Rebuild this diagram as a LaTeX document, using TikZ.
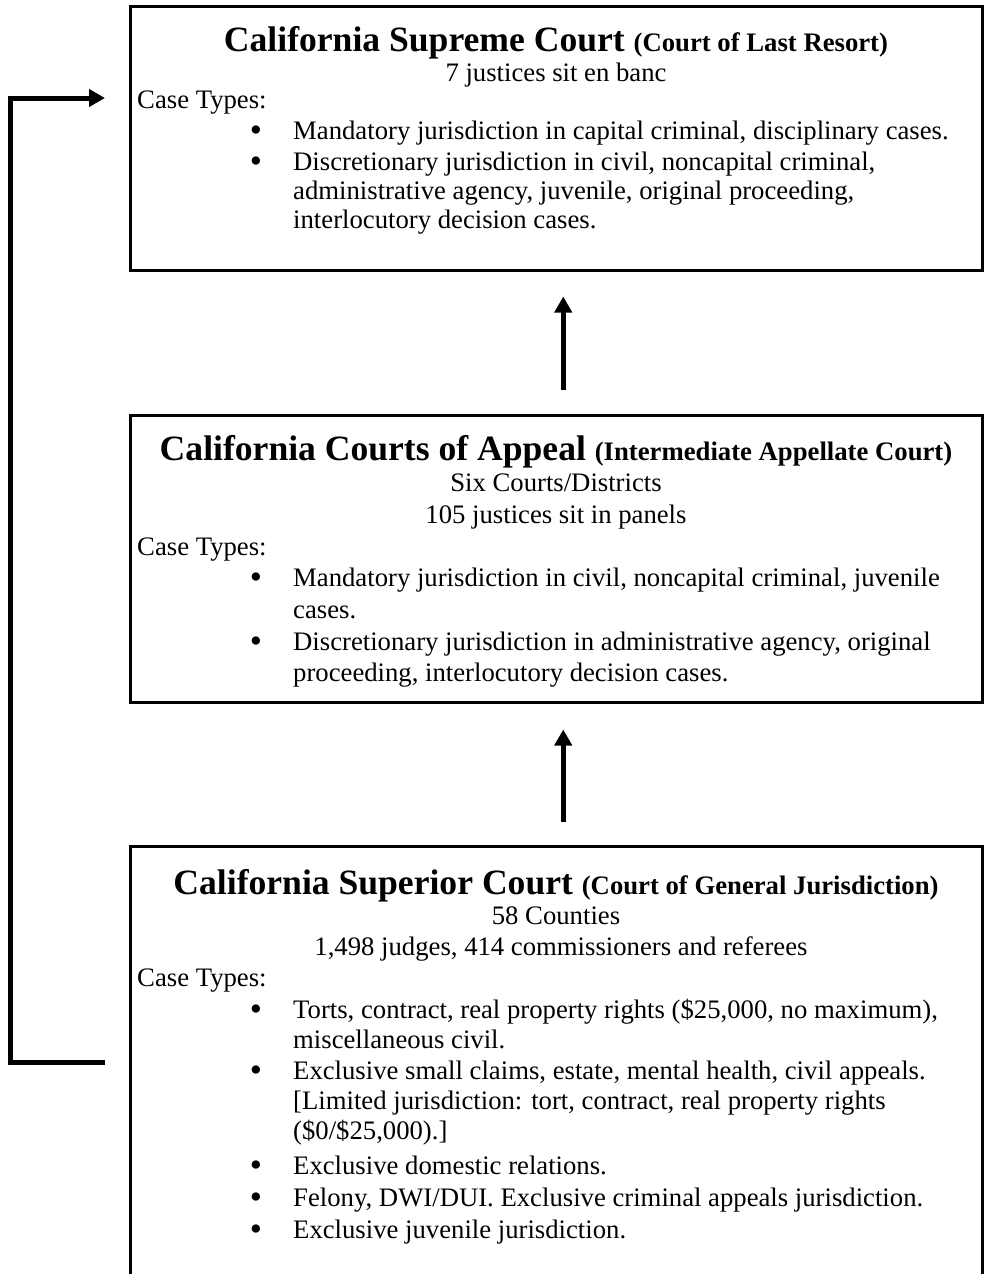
\documentclass[tikz,border=0pt]{standalone}
\usepackage{fontspec}
\setmainfont{Liberation Serif}
\usetikzlibrary{arrows.meta}
\begin{document}
\begin{tikzpicture}[x=1pt,y=-1pt,
  box/.style={draw=black, line width=2.5pt, anchor=north west, inner sep=0pt, minimum width=852pt},
  txt/.style={inner sep=0pt, font=\fontsize{26.7}{30}\selectfont},
  bul/.style={inner sep=0pt, font=\fontsize{26.7}{30}\selectfont},
  ttl/.style={inner sep=0pt, font=\fontsize{35.6}{40}\selectfont\bfseries},
  conn/.style={line width=5pt, -{Triangle[width=17pt,length=16pt]}}
]
\useasboundingbox (0,0) rectangle (983,1274);
\newcommand{\sub}[1]{{\fontsize{26.7}{30}\selectfont #1}}
\newcommand{\bigbul}{\scalebox{1.3}{•}}

% boxes
\node[box, minimum height=264pt] (sup) at (129,5) {};
\node[box, minimum height=287pt] (mid) at (129,414) {};
\node[box, minimum height=440pt] (bot) at (129,845) {};

% top box text
\node[ttl, anchor=base] (supT) at (556,51) {California Supreme Court \sub{(Court of Last Resort)}};
\node[txt, anchor=base] (supA) at (556,81) {7 justices sit en banc};
\node[txt, anchor=base west] (supC) at (137,108) {Case Types:};
\node[bul, anchor=base] (supB1) at (256,141) {\bigbul};
\node[txt, anchor=base west] (supL1) at (293,139) {Mandatory jurisdiction in capital criminal, disciplinary cases.};
\node[bul, anchor=base] (supB2) at (256,172) {\bigbul};
\node[txt, anchor=base west] (supL2) at (293,170) {Discretionary jurisdiction in civil, noncapital criminal,};
\node[txt, anchor=base west] (supL3) at (293,199) {administrative agency, juvenile, original proceeding,};
\node[txt, anchor=base west] (supL4) at (293,228) {interlocutory decision cases.};

% middle box text
\node[ttl, anchor=base] (midT) at (556,460) {California Courts of Appeal \sub{(Intermediate Appellate Court)}};
\node[txt, anchor=base] (midA) at (556,491) {Six Courts/Districts};
\node[txt, anchor=base] (midA2) at (556,523) {105 justices sit in panels};
\node[txt, anchor=base west] (midC) at (137,555) {Case Types:};
\node[bul, anchor=base] (midB1) at (256,588) {\bigbul};
\node[txt, anchor=base west] (midL1) at (293,586) {Mandatory jurisdiction in civil, noncapital criminal, juvenile};
\node[txt, anchor=base west] (midL2) at (293,618) {cases.};
\node[bul, anchor=base] (midB2) at (256,652) {\bigbul};
\node[txt, anchor=base west] (midL3) at (293,650) {Discretionary jurisdiction in administrative agency, original};
\node[txt, anchor=base west] (midL4) at (293,681) {proceeding, interlocutory decision cases.};

% bottom box text
\node[ttl, anchor=base] (botT) at (556,894) {California Superior Court \sub{(Court of General Jurisdiction)}};
\node[txt, anchor=base] (botA) at (556,924) {58 Counties};
\node[txt, anchor=base] (botA2) at (561,955) {1,498 judges, 414 commissioners and referees};
\node[txt, anchor=base west] (botC) at (137,986) {Case Types:};
\node[bul, anchor=base] (botB1) at (256,1020) {\bigbul};
\node[txt, anchor=base west] (botL1) at (293,1018) {Torts, contract, real property rights (\$25,000, no maximum),};
\node[txt, anchor=base west] (botL2) at (293,1048) {miscellaneous civil.};
\node[bul, anchor=base] (botB2) at (256,1081) {\bigbul};
\node[txt, anchor=base west] (botL3) at (293,1079) {Exclusive small claims, estate, mental health, civil appeals.};
\node[txt, anchor=base west] (botL4) at (293,1109) {[Limited jurisdiction: tort, contract, real property rights};
\node[txt, anchor=base west] (botL5) at (293,1139) {(\$0/\$25,000).]};
\node[bul, anchor=base] (botB3) at (256,1176) {\bigbul};
\node[txt, anchor=base west] (botL6) at (293,1174) {Exclusive domestic relations.};
\node[bul, anchor=base] (botB4) at (256,1208) {\bigbul};
\node[txt, anchor=base west] (botL7) at (293,1206) {Felony, DWI/DUI. Exclusive criminal appeals jurisdiction.};
\node[bul, anchor=base] (botB5) at (256,1240) {\bigbul};
\node[txt, anchor=base west] (botL8) at (293,1238) {Exclusive juvenile jurisdiction.};

% vertical arrows
\draw[conn] ([xshift=7pt,yshift=24pt]mid.north) -- ([xshift=7pt,yshift=-25pt]sup.south);
\draw[conn] ([xshift=7pt,yshift=23pt]bot.north) -- ([xshift=7pt,yshift=-26pt]mid.south);

% left connector
\coordinate (lstart) at (105,1062);
\coordinate (lend) at (105,98);
\draw[conn] (lstart) -| ([xshift=-95pt]lend) -- (lend);
\end{tikzpicture}
\end{document}
